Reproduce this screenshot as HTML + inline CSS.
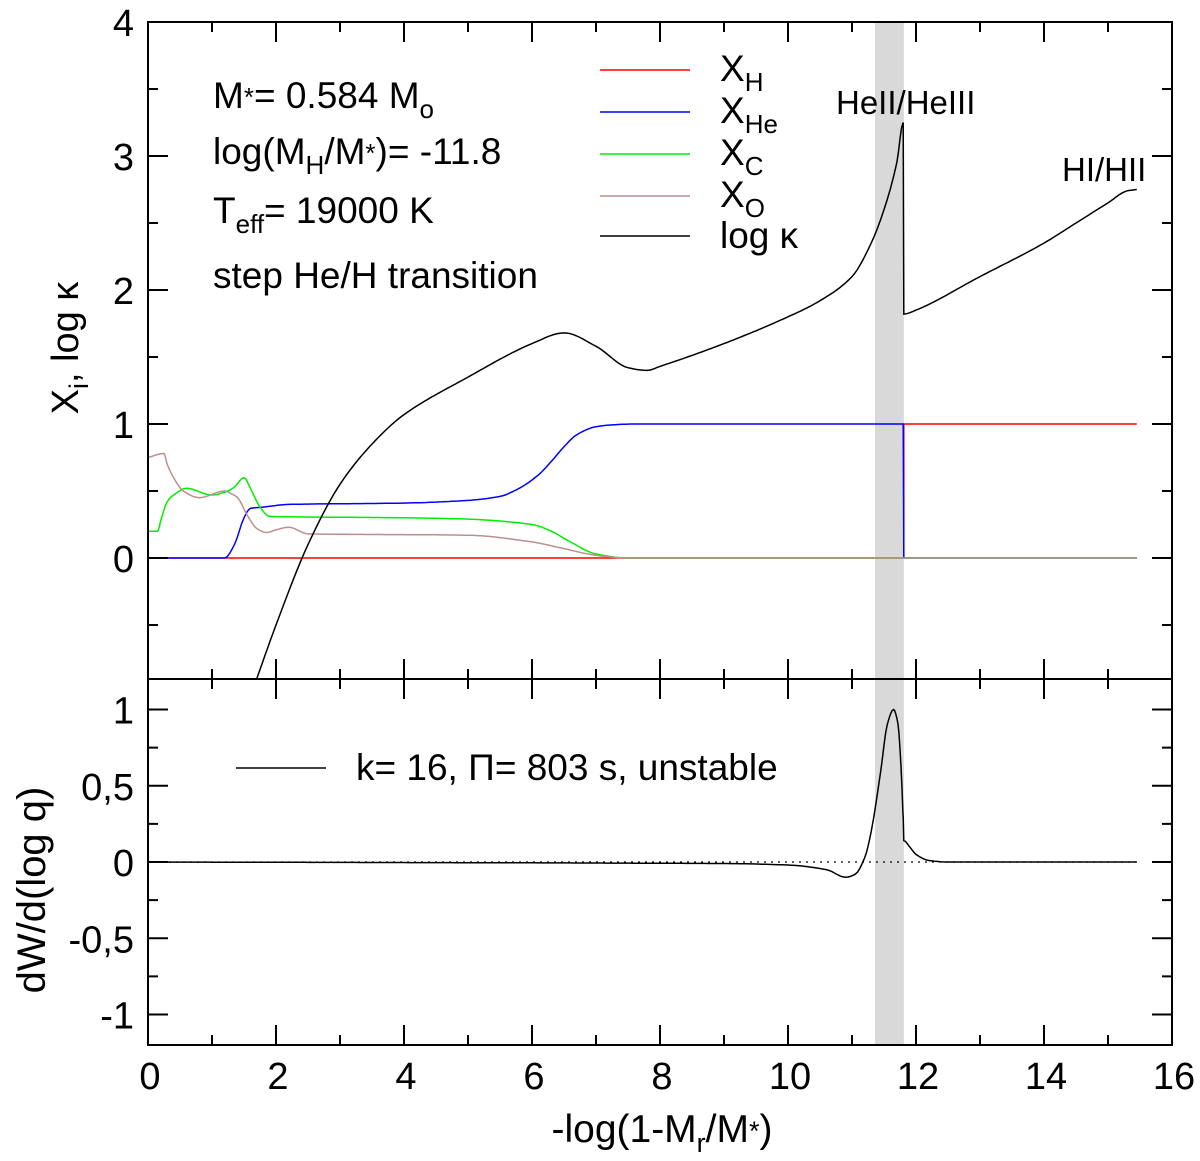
<!DOCTYPE html>
<html><head><meta charset="utf-8"><style>
body{margin:0;background:#fff}
svg{font-family:"Liberation Sans",sans-serif}
</style></head><body>
<svg id="chart" width="1200" height="1156" viewBox="0 0 1200 1156" xmlns="http://www.w3.org/2000/svg">
<g id="g"></g>
<g font-family="Liberation Sans, sans-serif" font-size="37">
<text x="662" y="1142" font-size="39" text-anchor="middle">-log(1-M<tspan font-size="27" dy="10">r</tspan><tspan dy="-10">/M</tspan><tspan font-size="27" dy="-2">*</tspan><tspan dy="2">)</tspan></text>
<text transform="translate(78,348) rotate(-90)" font-size="38" text-anchor="middle">X<tspan font-size="27" dy="10">i</tspan><tspan dy="-10">, log κ</tspan></text>
<text transform="translate(45,890) rotate(-90)" font-size="40" text-anchor="middle">dW/d(log q)</text>
<g>
<text x="213" y="108">M<tspan font-size="26" dy="-2">*</tspan><tspan dy="2">= 0.584 M</tspan><tspan font-size="26" dy="10">o</tspan></text>
<text x="213" y="164">log(M<tspan font-size="26" dy="10">H</tspan><tspan dy="-10">/M</tspan><tspan font-size="26" dy="-2">*</tspan><tspan dy="2">)= -11.8</tspan></text>
<text x="213" y="223">T<tspan font-size="26" dy="10">eff</tspan><tspan dy="-10">= 19000 K</tspan></text>
<text x="213" y="288">step He/H transition</text>
</g>
<g>
<line x1="600" x2="690" y1="70" y2="70" stroke="#f00" stroke-width="1.5"/><text x="720" y="81">X<tspan font-size="26" dy="10">H</tspan></text>
<line x1="600" x2="690" y1="112" y2="112" stroke="#00f" stroke-width="1.5"/><text x="720" y="123">X<tspan font-size="26" dy="10">He</tspan></text>
<line x1="600" x2="690" y1="154" y2="154" stroke="#0e0" stroke-width="1.5"/><text x="720" y="165">X<tspan font-size="26" dy="10">C</tspan></text>
<line x1="600" x2="690" y1="196" y2="196" stroke="#bc8f8f" stroke-width="1.5"/><text x="720" y="207">X<tspan font-size="26" dy="10">O</tspan></text>
<line x1="600" x2="690" y1="236" y2="236" stroke="#000" stroke-width="1.5"/><text x="720" y="248">log κ</text>
</g>
<text x="836" y="114" font-size="33">HeII/HeIII</text>
<text x="1062" y="181" font-size="33">HI/HII</text>
<g>
<line x1="236" x2="326" y1="768" y2="768" stroke="#000" stroke-width="1.5"/>
<text x="356" y="780">k= 16, Π= 803 s, unstable</text>
</g>
</g>
</svg>
<script>
const kappaX=[1.7,2,2.5,3,3.5,4,5,6,6.5,7,7.5,7.8,8,9,10,10.5,11,11.3,11.5,11.7,11.8,11.81,12,13,14,14.5,15,15.3,15.45];
const kappaY=[-0.9,-0.5,0.1,0.55,0.85,1.07,1.35,1.6,1.68,1.58,1.42,1.4,1.43,1.6,1.8,1.92,2.1,2.35,2.6,2.95,3.25,1.82,1.85,2.1,2.35,2.5,2.65,2.74,2.75];
const hX=[0,11.81,11.81,15.45];
const hY=[0,0,1,1];
const heX=[0,1.2,1.35,1.5,1.6,1.8,2.2,4,5,5.5,5.8,6.1,6.3,6.5,6.7,7,7.3,7.6,11.8,11.81,11.82,15.45];
const heY=[0,0,0.1,0.3,0.37,0.38,0.4,0.41,0.43,0.46,0.52,0.62,0.72,0.83,0.92,0.98,0.995,1,1,0,0,0];
const cX=[0,0.15,0.2,0.3,0.4,0.6,1.0,1.25,1.35,1.5,1.6,1.75,1.9,4,5,6,6.3,6.6,7,7.5,15.45];
const cY=[0.2,0.2,0.28,0.42,0.47,0.52,0.47,0.5,0.53,0.6,0.52,0.38,0.31,0.3,0.29,0.25,0.2,0.12,0.03,0,0];
const oX=[0,0.25,0.3,0.4,0.55,0.8,1.2,1.3,1.4,1.55,1.7,1.85,2.0,2.2,2.5,5,6,6.5,7,7.5,15.45];
const oY=[0.75,0.78,0.7,0.6,0.5,0.45,0.5,0.48,0.45,0.32,0.22,0.19,0.21,0.23,0.18,0.17,0.12,0.07,0.02,0,0];
const dwX=[0,9,10,10.6,10.9,11.05,11.2,11.3,11.45,11.55,11.65,11.72,11.78,11.8,11.81,11.9,12,12.2,12.5,15.45];
const dwY=[0,-0.01,-0.02,-0.05,-0.1,-0.08,0.03,0.2,0.6,0.9,1.0,0.9,0.5,0.3,0.14,0.1,0.05,0.01,0,0];
const xTicks=[0,2,4,6,8,10,12,14,16];
const topTicks=[0,1,2,3,4];
const botTicks=[1,0.5,0,-0.5,-1];
const botTickLabels=["1","0,5","0","-0,5","-1"];
const band=[11.36,11.81];

const L=148,R=1172,T1=22,B1=679,B2=1045;
const sx=v=>L+(R-L)*v/16;
const sy1=v=>558-134*v;
const sy2=v=>862-152.5*v;
const g=document.getElementById('g');
const NS='http://www.w3.org/2000/svg';
function el(t,a,p){const e=document.createElementNS(NS,t);for(const k in a)e.setAttribute(k,a[k]);(p||g).appendChild(e);return e;}
function smooth(xs,ys){
  const n=xs.length,m=[],d=[];
  for(let i=0;i<n-1;i++){const dx=xs[i+1]-xs[i];d.push(dx>1e-9?(ys[i+1]-ys[i])/dx:0);}
  for(let i=0;i<n;i++){
    if(i==0)m.push(d[0]);else if(i==n-1)m.push(d[n-2]);
    else{const a=d[i-1],b=d[i];m.push(a*b<=0||xs[i+1]-xs[i]<0.02||xs[i]-xs[i-1]<0.02?0:2/(1/a+1/b));}
  }
  const pts=[[xs[0],ys[0]]];
  for(let i=0;i<n-1;i++){
    const h=xs[i+1]-xs[i];
    if(h<0.02){pts.push([xs[i+1],ys[i+1]]);continue;}
    const N=Math.max(4,Math.ceil(h*20));
    for(let k=1;k<=N;k++){
      const t=k/N,t2=t*t,t3=t2*t;
      const y=(2*t3-3*t2+1)*ys[i]+(t3-2*t2+t)*h*m[i]+(-2*t3+3*t2)*ys[i+1]+(t3-t2)*h*m[i+1];
      pts.push([xs[i]+h*t,y]);
    }
  }
  return pts;
}
function path(xs,ys,sy,col,name){
  const pts=smooth(xs,ys);
  const d=pts.map((p,i)=>(i?'L':'M')+sx(p[0]).toFixed(1)+','+sy(p[1]).toFixed(1)).join('');
  const e=el('path',{d:d,fill:'none',stroke:col,'stroke-width':1.5,'clip-path':sy===sy1?'url(#c1)':'url(#c2)'});
  
  
  return e;
}
const defs=el('defs',{});
el('rect',{x:L,y:T1,width:R-L,height:B1-T1},el('clipPath',{id:'c1'},defs));
el('rect',{x:L,y:B1,width:R-L,height:B2-B1},el('clipPath',{id:'c2'},defs));
const b1=el('rect',{x:sx(band[0]),y:T1,width:sx(band[1])-sx(band[0]),height:B2-T1,fill:'#d9d9d9'});


path(hX,hY,sy1,'#ff0000','xh-line');
path(heX,heY,sy1,'#0000ff','xhe-line');
path(cX,cY,sy1,'#00ee00','xc-line');
path(oX,oY,sy1,'#bc8f8f','xo-line');
path(kappaX,kappaY,sy1,'#000','log-kappa-line');
const zl=el('line',{x1:sx(0),x2:sx(15.45),y1:sy2(0),y2:sy2(0),stroke:'#000','stroke-width':1.2,'stroke-dasharray':'2,5'});


path(dwX,dwY,sy2,'#000','dw-line');
el('rect',{x:L,y:T1,width:R-L,height:B2-T1,fill:'none',stroke:'#000','stroke-width':2});
el('line',{x1:L,x2:R,y1:B1,y2:B1,stroke:'#000','stroke-width':2});
for(let v=0;v<=16;v++){
  const len=v%2?10:20;
  for(const [y,dir] of [[B2,-1],[B1,-1],[B1,1],[T1,1]]){
    el('line',{x1:sx(v),x2:sx(v),y1:y,y2:y+dir*len,stroke:'#000','stroke-width':2});
  }
}
xTicks.forEach(v=>{const t=el('text',{x:sx(v)+2,y:1089,'font-size':38,'text-anchor':'middle'});t.textContent=v;

});
for(let v=-0.5;v<=4;v+=0.5){
  const len=Number.isInteger(v)?20:10;
  el('line',{x1:L,x2:L+len,y1:sy1(v),y2:sy1(v),stroke:'#000','stroke-width':2});
  el('line',{x1:R,x2:R-len,y1:sy1(v),y2:sy1(v),stroke:'#000','stroke-width':2});
}
topTicks.forEach(v=>{const t=el('text',{x:134,y:sy1(v)+14,'font-size':38,'text-anchor':'end'});t.textContent=v;

});
for(let v=-1;v<=1.01;v+=0.25){
  const len=Math.abs(v*2-Math.round(v*2))<1e-6?20:10;
  el('line',{x1:L,x2:L+len,y1:sy2(v),y2:sy2(v),stroke:'#000','stroke-width':2});
  el('line',{x1:R,x2:R-len,y1:sy2(v),y2:sy2(v),stroke:'#000','stroke-width':2});
}
botTicks.forEach((v,i)=>{const t=el('text',{x:134,y:sy2(v)+14,'font-size':38,'text-anchor':'end'});t.textContent=botTickLabels[i];

});
</script>
</body></html>
